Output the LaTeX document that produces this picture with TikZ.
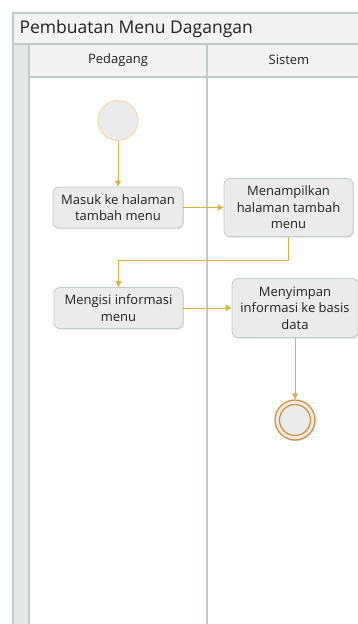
\documentclass[tikz,border=0pt]{standalone}
\usepackage{fontspec}
\setmainfont{Open Sans}
\usetikzlibrary{shadows,arrows.meta}
\definecolor{framec}{HTML}{BFCCC8}
\definecolor{barfill}{HTML}{F3F3F3}
\definecolor{stripfill}{HTML}{E6E6E6}
\definecolor{actfill}{HTML}{EBEBEB}
\definecolor{flowc}{HTML}{D6B443}
\definecolor{startc}{HTML}{F0DCA6}
\definecolor{endc}{HTML}{D98A2B}
\definecolor{txt}{HTML}{222222}
\tikzset{
  act/.style={draw=framec, fill=actfill, rounded corners=6pt, line width=0.8pt,
    align=center, font=\fontsize{13}{16.5}\selectfont, text=txt, inner sep=2pt,
    drop shadow={shadow xshift=0.8pt, shadow yshift=-1.2pt, opacity=0.25}},
  flow/.style={draw=flowc, line width=0.9pt, -{Triangle[length=6pt,width=6pt]}},
  lane/.style={draw=framec, line width=1.1pt},
}
\begin{document}
\begin{tikzpicture}[x=1pt, y=-1pt]
\useasboundingbox (0,0) rectangle (358,624);
\clip (0,0) rectangle (358,624);
% pool frame, title bar, side strip and lane headers
\fill[white] (13,13) rectangle (370,640);
\filldraw[lane, fill=barfill] (13,13) rectangle (370,44);
\filldraw[lane, fill=stripfill] (13,44) rectangle (29,640);
\filldraw[lane, fill=barfill] (29,44) rectangle (370,77);
\draw[lane] (207,44) -- (207,640);
\draw[lane] (13,13) rectangle (370,640);
\node[anchor=west, font=\fontsize{17.5}{20}\selectfont, text=txt] (judul) at (16,28.5) {Pembuatan Menu Dagangan};
\node[font=\fontsize{13}{15}\selectfont, text=txt] (pedagang) at (118,60) {Pedagang};
\node[font=\fontsize{13}{15}\selectfont, text=txt] (sistem) at (289,60) {Sistem};
% activities
\node[circle, draw=startc, fill=actfill, line width=1pt, minimum size=40pt, inner sep=0pt] (mulai) at (118,120.5) {};
\node[act, minimum width=130pt, minimum height=41pt] (masuk) at (118,207.5) {Masuk ke halaman\\tambah menu};
\node[act, minimum width=129pt, minimum height=58pt] (tampil) at (288.5,207.5) {Menampilkan\\halaman tambah\\menu};
\node[act, minimum width=129pt, minimum height=41pt] (isi) at (118.5,308) {Mengisi informasi\\menu};
\node[act, minimum width=126pt, minimum height=59pt] (simpan) at (295,308) {Menyimpan\\informasi ke basis\\data};
\node[circle, draw=endc, fill=actfill, line width=1.2pt, minimum size=40pt, inner sep=0pt,
  drop shadow={shadow xshift=0.8pt, shadow yshift=-1.2pt, opacity=0.25}] (selesai) at (295,420) {};
\draw[endc, line width=1.2pt, fill=actfill] (selesai.center) circle[radius=15.5pt];
% control flow
\draw[flow] (mulai) -- (masuk);
\draw[flow] (masuk) -- (tampil);
\draw[flow] (tampil.south) -- ++(0,24) -| (isi.north);
\draw[flow] (isi) -- (simpan);
\draw[flow] (simpan) -- (selesai);
\end{tikzpicture}
\end{document}
